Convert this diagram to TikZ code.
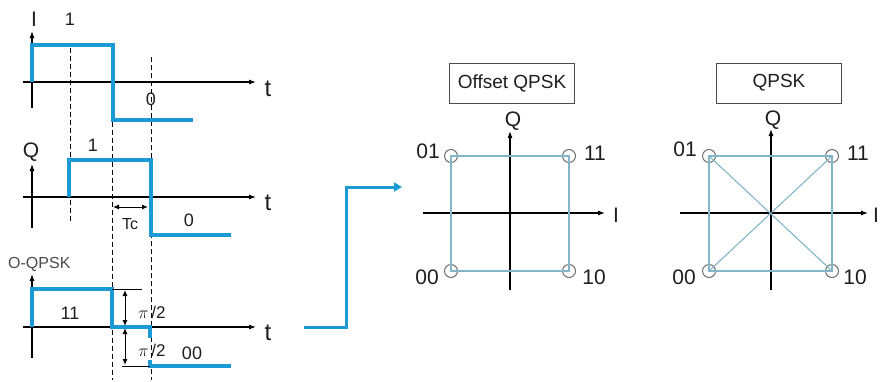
\documentclass[tikz,border=0pt]{standalone}
\usepackage{fontspec}
\setmainfont{Liberation Sans}
\usetikzlibrary{arrows.meta}
\definecolor{sigblue}{RGB}{27,154,214}
\definecolor{sqline}{RGB}{130,182,200}
\definecolor{circ}{RGB}{110,110,110}
\definecolor{txt}{RGB}{30,30,30}
\begin{document}
\begin{tikzpicture}[x=1pt,y=-1pt,
  sig/.style={line width=4.5pt,color=sigblue},
  axis/.style={line width=1.1pt,-{Latex[length=7pt,width=5pt]}},
  plainaxis/.style={line width=1.1pt},
  guide/.style={line width=0.9pt,dash pattern=on 5pt off 3pt},
  big/.style={font=\fontsize{21}{23}\selectfont,text=txt,inner sep=0pt},
  tlbl/.style={font=\fontsize{24}{26}\selectfont,text=txt,inner sep=0pt},
  mid/.style={font=\fontsize{18}{20}\selectfont,text=txt,inner sep=0pt},
  small/.style={font=\fontsize{16}{18}\selectfont,text=txt!80,inner sep=0pt},
  titlebox/.style={draw=txt!80,line width=0.8pt,font=\fontsize{19}{21}\selectfont,text=txt,minimum height=40pt,inner sep=0pt},
  sq/.style={draw=sqline,line width=1.1pt},
  pt/.style={circle,draw=circ,line width=1pt,minimum size=13pt,inner sep=0pt},
  dbl/.style={line width=1pt,{Latex[length=6pt,width=5pt]}-{Latex[length=6pt,width=5pt]}},
]
\useasboundingbox (0,0) rectangle (880,381);

% ---------- dashed guide lines ----------
\draw[guide] (70,48) -- (70,223);
\draw[guide] (112,122) -- (112,380);
\draw[guide] (151,57) -- (151,380);

% ---------- panel 1 : I ----------
\draw[plainaxis] (32,108) -- (32,40);
\draw[axis] (32,50) -- (32,31);
\draw[axis] (23,82) -- (256,82);
\node[big] (lI) at (34,19) {I};
\node[mid] (l1a) at (70,19) {1};
\node[tlbl] (lt1) at (268,89) {t};
\node[mid] (l0a) at (151,99) {0};
\draw[sig] (32,82) -- (32,45) -- (113,45) -- (113,120) -- (193,120);

% ---------- panel 2 : Q ----------
\draw[plainaxis] (32,228) -- (32,175);
\draw[axis] (32,185) -- (32,164);
\draw[axis] (23,197) -- (256,197);
\node[big] (lQ) at (31,152) {Q};
\node[mid] (l1b) at (93,145) {1};
\node[tlbl] (lt2) at (268,203) {t};
\node[mid] (l0b) at (189,220) {0};
\draw[sig] (69,197) -- (69,160) -- (151,160) -- (151,235) -- (231,235);
\coordinate (tca) at (113,207);
\coordinate (tcb) at (148,207);
\draw[dbl] (tca) -- (tcb);
\node[font=\fontsize{16}{18}\selectfont,text=txt,inner sep=0pt] (lTc) at (130,224) {Tc};

% ---------- panel 3 : O-QPSK ----------
\draw[plainaxis] (32,358) -- (32,285);
\draw[axis] (32,295) -- (32,274);
\draw[axis] (23,327) -- (256,327);
\node[small,anchor=west] (lO) at (8,264) {O-QPSK};
\node[tlbl] (lt3) at (268,333) {t};
\node[mid] (l11) at (70,313) {11};
\node[mid] (l00) at (192,353) {00};
\draw[sig] (32,327) -- (32,289) -- (112,289) -- (112,327) -- (150,327) -- (150,338);
\draw[sig] (150,360) -- (150,366) -- (231,366);
\coordinate (rt) at (112,289);
\coordinate (rte) at (142,289);
\coordinate (rb) at (122,366);
\coordinate (rbe) at (150,366);
\draw[line width=0.9pt] (rt) -- (rte);
\draw[line width=0.9pt] (rb) -- (rbe);
\draw[dbl] (125,290) -- (125,326);
\draw[dbl] (125,328) -- (125,365);
\node[font=\fontsize{17}{19}\selectfont,text=txt,inner sep=0pt] (p1) at (152,312) {$\pi$\,/2};
\node[font=\fontsize{17}{19}\selectfont,text=txt,inner sep=0pt] (p2) at (152,350) {$\pi$\,/2};

% ---------- blue connector ----------
\coordinate (cs) at (304,327);
\coordinate (ce) at (402,187);
\draw[sigblue,line width=3pt,-{Triangle[length=8pt,width=9pt]}] (cs) -- (346,327) -- (346,187) -- (ce);

% ---------- Offset QPSK constellation ----------
\node[titlebox,minimum width=125pt] (t1) at (512,83) {Offset QPSK};
\draw[axis] (423,213) -- (605,213);
\draw[axis] (510,290) -- (510,131);
\node[big] (q1) at (513,121) {Q};
\node[big] (i1) at (616,215) {I};
\node[pt] (a01) at (451,156) {};
\node[pt] (a11) at (569,156) {};
\node[pt] (a00) at (451,271) {};
\node[pt] (a10) at (569,271) {};
\draw[sq] (a01.center) -- (a11.center) -- (a10.center) -- (a00.center) -- cycle;
\node[big] (la01) at (428,151) {01};
\node[big] (la11) at (595,153) {11};
\node[big] (la00) at (427,277) {00};
\node[big] (la10) at (594,277) {10};

% ---------- QPSK constellation ----------
\node[titlebox,minimum width=125pt] (t2) at (779,83) {QPSK};
\draw[axis] (680,213) -- (868,213);
\draw[axis] (771,290) -- (771,129);
\node[big] (q2) at (773,120) {Q};
\node[big] (i2) at (876,215) {I};
\node[pt] (b01) at (709,156) {};
\node[pt] (b11) at (832,156) {};
\node[pt] (b00) at (709,271) {};
\node[pt] (b10) at (832,271) {};
\draw[sq] (b01.center) -- (b11.center) -- (b10.center) -- (b00.center) -- cycle;
\draw[sq] (b01.center) -- (b10.center);
\draw[sq] (b00.center) -- (b11.center);
\node[big] (lb01) at (685,149) {01};
\node[big] (lb11) at (858,153) {11};
\node[big] (lb00) at (684,277) {00};
\node[big] (lb10) at (855,277) {10};
\end{tikzpicture}
\end{document}
